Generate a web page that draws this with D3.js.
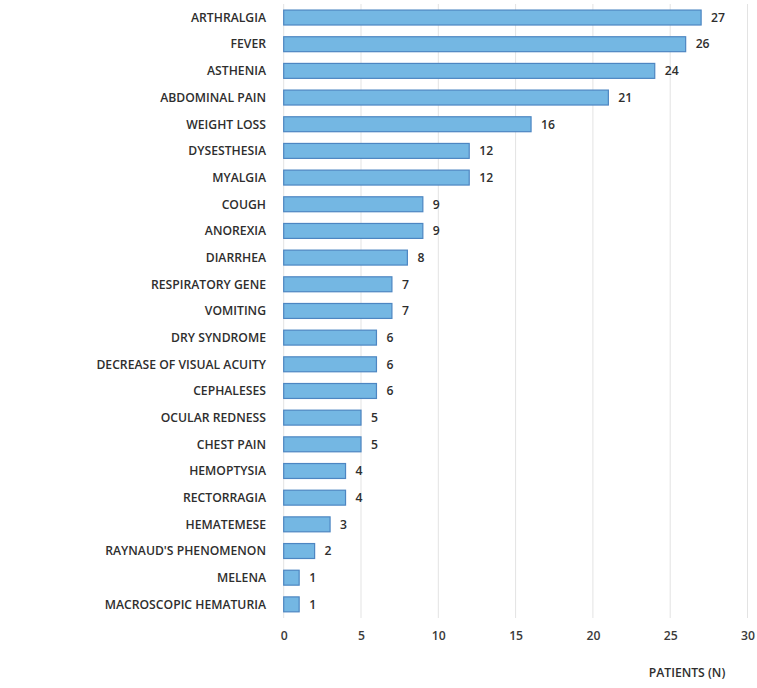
<!DOCTYPE html>
<html><head><meta charset="utf-8">
<script src="https://cdn.jsdelivr.net/npm/d3@7"></script>
<style>body{margin:0;background:#fff}</style>
</head><body>
<svg id="c" width="757" height="688"></svg>
<script>
const categories = ["ARTHRALGIA","FEVER","ASTHENIA","ABDOMINAL PAIN","WEIGHT LOSS","DYSESTHESIA","MYALGIA","COUGH","ANOREXIA","DIARRHEA","RESPIRATORY GENE","VOMITING","DRY SYNDROME","DECREASE OF VISUAL ACUITY","CEPHALESES","OCULAR REDNESS","CHEST PAIN","HEMOPTYSIA","RECTORRAGIA","HEMATEMESE","RAYNAUD'S PHENOMENON","MELENA","MACROSCOPIC HEMATURIA"];
const patients = [27,26,24,21,16,12,12,9,9,8,7,7,6,6,6,5,5,4,4,3,2,1,1];
const xTicks = [0,5,10,15,20,25,30];
const axisTitle = "PATIENTS (N)";

const svg = d3.select("#c");
const font = "'Open Sans', sans-serif";
const fs = 12.2;
const x = d3.scaleLinear().domain([0,30]).range([283.7,747.5]);
const y = d3.scaleBand().domain(categories).range([4.2,617.7]).paddingInner(0.44).paddingOuter(0.22);

svg.append("g").selectAll("line").data(xTicks).join("line")
  .attr("x1",d=>x(d)).attr("x2",d=>x(d)).attr("y1",4).attr("y2",618)
  .attr("stroke","#e3e3e3").attr("stroke-width",1);

svg.append("g").selectAll("rect").data(patients).join("rect")
  .attr("x",x(0)).attr("y",(d,i)=>y(categories[i]))
  .attr("width",d=>x(d)-x(0)).attr("height",y.bandwidth())
  .attr("fill","#74b7e3").attr("stroke","#4d86c2").attr("stroke-width",1.2);

svg.append("g").selectAll("text").data(patients).join("text")
  .attr("x",d=>x(d)+10).attr("y",(d,i)=>y(categories[i])+y.bandwidth()/2)
  .attr("dy","0.35em").attr("font-family",font).attr("font-size",fs).attr("font-weight",600)
  .attr("fill","#2e2e2e").text(d=>d);

svg.append("g").selectAll("text").data(categories).join("text")
  .attr("x",266).attr("y",d=>y(d)+y.bandwidth()/2).attr("dy","0.35em")
  .attr("text-anchor","end").attr("font-family",font).attr("font-size",fs).attr("font-weight",600)
  .attr("fill","#2e2e2e").text(d=>d);

const xa = svg.append("g").attr("transform","translate(0,628)")
  .call(d3.axisBottom(x).tickValues(xTicks).tickSize(0).tickFormat(d3.format("d")));
xa.select(".domain").remove();
xa.selectAll("text").attr("font-family",font).attr("font-size",fs).attr("font-weight",600).attr("fill","#3a3a3a").attr("dy","0.71em");

svg.append("text").attr("x",687).attr("y",673).attr("dy","0.35em").attr("text-anchor","middle")
  .attr("font-family",font).attr("font-size",fs).attr("font-weight",600).attr("fill","#2e2e2e").text(axisTitle);
</script>
</body></html>
